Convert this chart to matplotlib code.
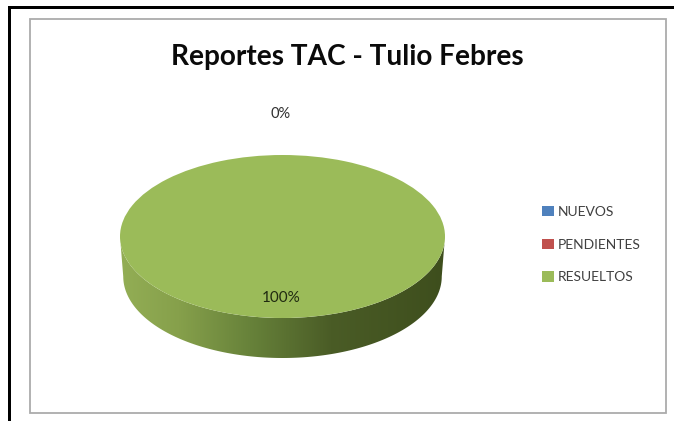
import numpy as np
import matplotlib
matplotlib.use("Agg")
import matplotlib.pyplot as plt
from matplotlib.colors import LinearSegmentedColormap
from matplotlib.patches import PathPatch, Rectangle
from matplotlib.path import Path

plt.rcParams["font.family"] = ["Lato", "DejaVu Sans"]

title = "Reportes TAC - Tulio Febres"
categories = ["NUEVOS", "PENDIENTES", "RESUELTOS"]
values = [0, 0, 100]
percent_labels = ["0%", "100%"]
colors = ["#4F81BD", "#C0504D", "#9BBB59"]

W, H = 674, 421
fig = plt.figure(figsize=(W / 100, H / 100), dpi=100, facecolor="white")


def box(x0, y0, x1, y1):
    """Figure-fraction rectangle from pixel edges measured from the top left."""
    return [x0 / W, 1 - y1 / H, (x1 - x0) / W, (y1 - y0) / H]


# Page edge lines and the grey chart frame, kept behind the axes
fig.add_artist(Rectangle((8 / W, 0), 2.5 / W, 1 - 6 / H, transform=fig.transFigure,
                         fc="black", ec="none", zorder=-2))
fig.add_artist(Rectangle((8 / W, 1 - 8.5 / H), 1 - 8 / W, 2.5 / H, transform=fig.transFigure,
                         fc="black", ec="none", zorder=-2))
fig.add_artist(Rectangle((30 / W, 1 - 413 / H), 636 / W, 394 / H, transform=fig.transFigure,
                         fc="white", ec="#ABABAB", lw=1.3, zorder=-1))

# Axes spanning the pie top and its rim; the vertical scale flattens the pie
top_h = 163.0
depth = 40.0
ax = fig.add_axes(box(120, 155, 445, 155 + top_h + depth))
wedges, _ = ax.pie(values, colors=colors, radius=1, startangle=90, counterclock=False, frame=False)
ax.set_aspect("auto")
ax.axis("off")

# Rim of the disc: lower half of the top ellipse joined to a slightly narrower base ellipse
drop = 2 * depth / top_h
taper = 0.98
t = np.linspace(np.pi, 2 * np.pi, 200)
upper = np.column_stack([np.cos(t), np.sin(t)])
lower = np.column_stack([taper * np.cos(t[::-1]), np.sin(t[::-1]) - drop])
rim = Path(np.vstack([upper, lower, upper[:1]]), closed=True)

rim_cmap = LinearSegmentedColormap.from_list(
    "rim", [(0, "#93AE55"), (0.18, "#86A04B"), (0.4, "#67823A"), (0.65, "#4A5C26"), (1, "#3E4E1D")]
)
shade = ax.imshow(np.linspace(0, 1, 256)[None, :], extent=(-1, 1, -1 - drop, 1), cmap=rim_cmap,
                  aspect="auto", zorder=0.5)
clip = PathPatch(rim, transform=ax.transData, fc="none", ec="none")
ax.add_patch(clip)
shade.set_clip_path(clip)
ax.set_xlim(-1, 1)
ax.set_ylim(-1 - drop, 1)

# Title and percentage labels
fig.text(347 / W, 1 - 57.5 / H, title, ha="center", va="center", fontsize=20.2, fontweight="bold", color="#0A0A0A")
fig.text(281 / W, 1 - 114.5 / H, percent_labels[0], ha="center", va="center", fontsize=10.5, color="#303030")
fig.text(281 / W, 1 - 298 / H, percent_labels[1], ha="center", va="center", fontsize=11, color="#202A10")

# Legend built from the pie wedges
fig.legend(wedges, categories, loc="center left", bbox_to_anchor=(542 / W, 1 - 244.5 / H), frameon=False,
           fontsize=10, labelcolor="#404040", handlelength=0.85, handleheight=0.75, handletextpad=0.25,
           labelspacing=1.5, borderpad=0, borderaxespad=0)

fig.savefig("out.png", dpi=100, facecolor="white")
